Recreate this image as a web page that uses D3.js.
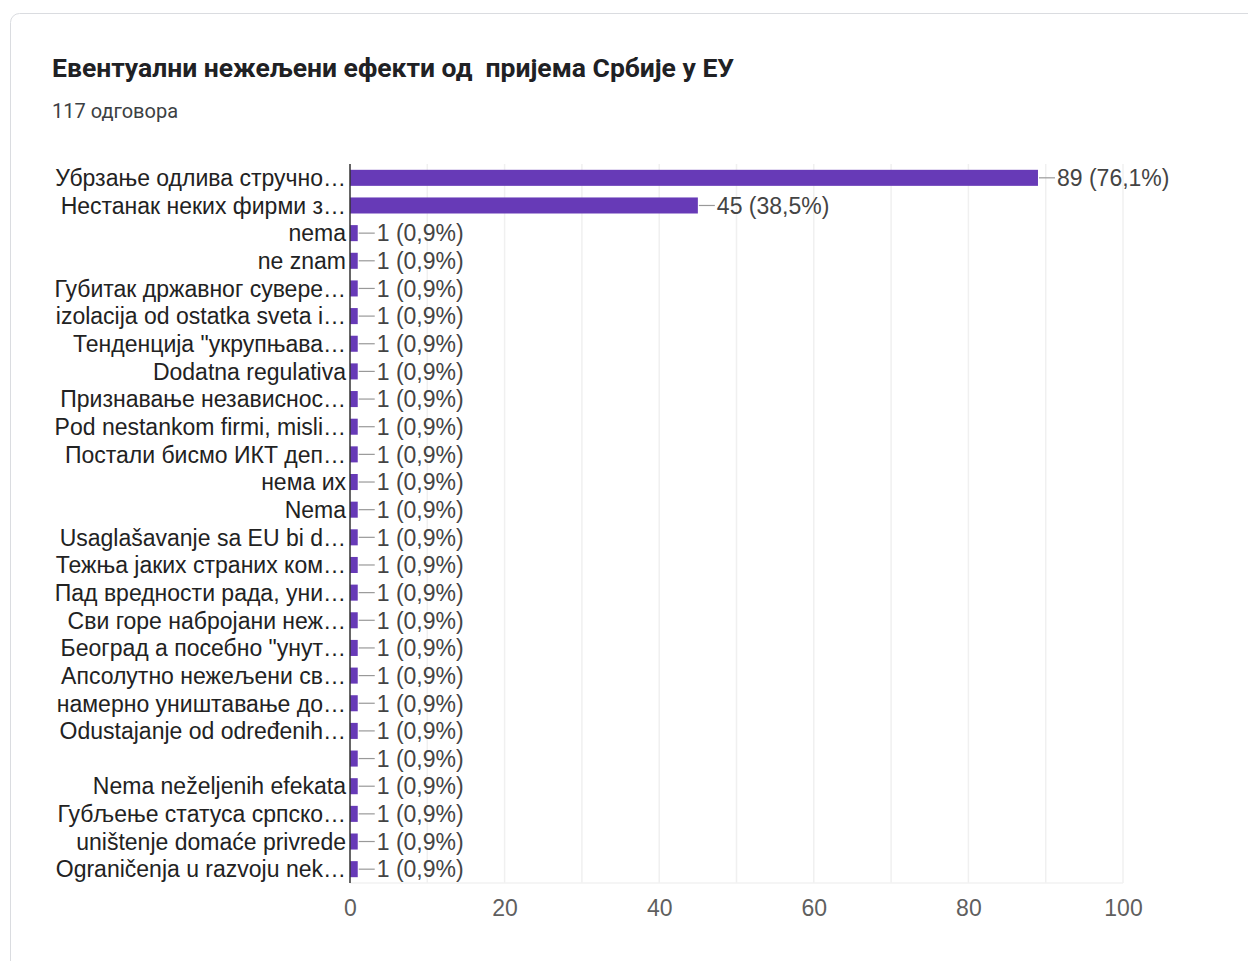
<!DOCTYPE html>
<html>
<head>
<meta charset="utf-8">
<script src="https://d3js.org/d3.v7.min.js"></script>
<style>
  body { margin: 0; background: #fff; }
  svg { display: block; }
</style>
</head>
<body>
<div id="chart"></div>
<script>
// answers, in the order they appear
const categories = [
  "Убрзање одлива стручно…",
  "Нестанак неких фирми з…",
  "nema",
  "ne znam",
  "Губитак државног сувере…",
  "izolacija od ostatka sveta i…",
  "Тенденција \"укрупњава…",
  "Dodatna regulativa",
  "Признавање независнос…",
  "Pod nestankom firmi, misli…",
  "Постали бисмо ИКТ деп…",
  "нема их",
  "Nema",
  "Usaglašavanje sa EU bi d…",
  "Тежња јаких страних ком…",
  "Пад вредности рада, уни…",
  "Сви горе набројани неж…",
  "Београд а посебно \"унут…",
  "Апсолутно нежељени св…",
  "намерно уништавање до…",
  "Odustajanje od određenih…",
  "",
  "Nema neželjenih efekata",
  "Губљење статуса српско…",
  "uništenje domaće privrede",
  "Ograničenja u razvoju nek…"
];
const counts = [89, 45, 1, 1, 1, 1, 1, 1, 1, 1, 1, 1, 1, 1, 1, 1, 1, 1, 1, 1, 1, 1, 1, 1, 1, 1];
const percents = ["76,1", "38,5", "0,9", "0,9", "0,9", "0,9", "0,9", "0,9", "0,9", "0,9", "0,9", "0,9", "0,9",
                  "0,9", "0,9", "0,9", "0,9", "0,9", "0,9", "0,9", "0,9", "0,9", "0,9", "0,9", "0,9", "0,9"];
const xTicks = [0, 20, 40, 60, 80, 100];
const gridTicks = [10, 20, 30, 40, 50, 60, 70, 80, 90, 100];
const title = "Евентуални нежељени ефекти од  пријема Србије у ЕУ";
const subtitle = "117 одговора";

const width = 1248, height = 961;
const svg = d3.select("#chart").append("svg").attr("width", width).attr("height", height);

// card
svg.append("rect")
  .attr("x", 10.5).attr("y", 13.5)
  .attr("width", 1260).attr("height", 990)
  .attr("rx", 9)
  .attr("fill", "#fff")
  .attr("stroke", "#dadce0");

svg.append("text")
  .attr("x", 52).attr("y", 77)
  .attr("font-family", "Roboto, Arial, sans-serif")
  .attr("font-weight", "bold")
  .attr("font-size", "26.5px")
  .attr("fill", "#202124")
  .style("white-space", "pre")
  .text(title);

svg.append("text")
  .attr("x", 52).attr("y", 118)
  .attr("font-family", "Roboto, Arial, sans-serif")
  .attr("font-size", "20px")
  .attr("fill", "#3c4043")
  .text(subtitle);

const plot = { left: 350, right: 1123, top: 164, bottom: 883 };
const labelFont = "'Liberation Sans', Arial, sans-serif";

let x = d3.scaleLinear().domain([0, 100]).range([plot.left, plot.right]);
let y = d3.scaleBand().domain(d3.range(categories.length)).range([plot.top, plot.bottom]).paddingInner(0.42).paddingOuter(0.21);

//gridlines
svg.append("g").selectAll("line")
  .data(gridTicks)
  .enter().append("line")
    .attr("x1", d => x(d)).attr("x2", d => x(d))
    .attr("y1", plot.top).attr("y2", plot.bottom)
    .attr("stroke", "#f0f0f0")
    .attr("stroke-width", 1.5);

svg.append("line")
  .attr("x1", plot.left).attr("x2", plot.right)
  .attr("y1", plot.bottom).attr("y2", plot.bottom)
  .attr("stroke", "#f2f2f2").attr("stroke-width", 1.5);

//bars
svg.append("g").selectAll("rect")
  .data(counts)
  .enter().append("rect")
    .attr("x", x(0))
    .attr("y", (d, i) => y(i))
    .attr("width", d => x(d) - x(0))
    .attr("height", y.bandwidth())
    .attr("fill", "#673ab7");

//y axis line
svg.append("line")
  .attr("x1", plot.left).attr("x2", plot.left)
  .attr("y1", plot.top).attr("y2", plot.bottom)
  .attr("stroke", "#333").attr("stroke-width", 1.5);

//category labels
svg.append("g").selectAll("text")
  .data(categories)
  .enter().append("text")
    .attr("x", plot.left - 4)
    .attr("y", (d, i) => y(i) + y.bandwidth() / 2)
    .attr("dy", "0.36em")
    .attr("text-anchor", "end")
    .attr("font-family", labelFont)
    .attr("font-size", "23px")
    .attr("fill", "#222")
    .text(d => d);

//value labels with leader line
let vals = svg.append("g").selectAll("g")
  .data(counts)
  .enter().append("g")
    .attr("transform", (d, i) => "translate(" + x(d) + "," + (y(i) + y.bandwidth() / 2) + ")");

vals.append("line")
  .attr("x1", 1).attr("x2", 17)
  .attr("y1", 0).attr("y2", 0)
  .attr("stroke", "#999").attr("stroke-width", 1.2);

vals.append("text")
  .attr("x", 19)
  .attr("dy", "0.36em")
  .attr("font-family", labelFont)
  .attr("font-size", "23px")
  .attr("fill", "#444")
  .text((d, i) => d + " (" + percents[i] + "%)");

//x axis
let bottomAxis = d3.axisBottom(x).tickValues(xTicks).tickSize(0).tickPadding(17);
let ax = svg.append("g")
  .attr("transform", "translate(0," + plot.bottom + ")")
  .call(bottomAxis);
ax.select(".domain").remove();
ax.selectAll("text")
  .attr("font-family", labelFont)
  .attr("font-size", "23px")
  .attr("fill", "#5f5f5f");
</script>
</body>
</html>
